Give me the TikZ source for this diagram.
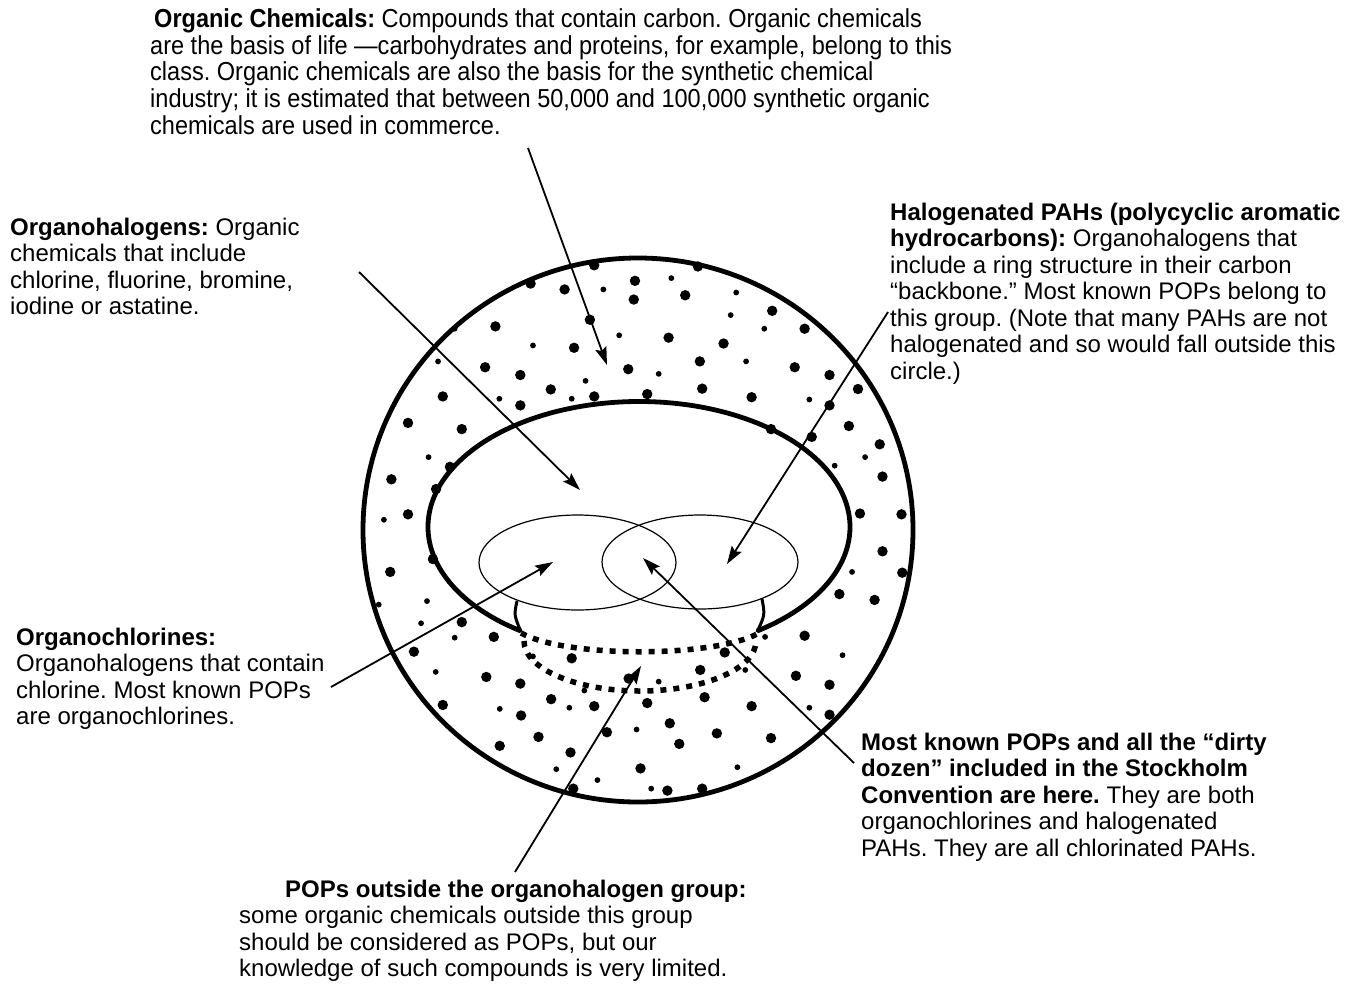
\documentclass[tikz,border=0pt]{standalone}
\usepackage{fontspec}
\setmainfont{Liberation Sans}
\newfontfamily\narrowfont{Liberation Sans}[FakeStretch=0.905]
\usetikzlibrary{arrows.meta}
\frenchspacing
\begin{document}
\begin{tikzpicture}[x=1pt,y=-1pt,
  txt/.style={anchor=north west, align=left, inner sep=0pt, font=\frenchspacing\fontsize{24}{26.5}\selectfont},
  ntxt/.style={anchor=north west, align=left, inner sep=0pt, font=\frenchspacing\narrowfont\fontsize{26}{26.7}\selectfont},
  ptr/.style={line width=1.8pt, -{Stealth[length=18pt,width=11.5pt,inset=3pt]}},
  thick ring/.style={line width=4.8pt},
  thin ring/.style={line width=1.2pt},
  hook/.style={line width=3pt},
  hidden/.style={line width=5.5pt, dash pattern=on 6pt off 7pt}]
\useasboundingbox (0,0) rectangle (1362,991);

% outer circle
\draw[thick ring] (638,530) ellipse [x radius=275, y radius=272];

% dots
\foreach \a/\b/\s in {643/65/L, 905/68/L, 482/112/L, 746/105/L, 838/98/S, 568/127/L, 666/127/S, 743/153/L, 873/142/L, 1002/135/S, 988/193/S, 1093/182/L, 632/205/L, 393/222/L, 290/228/S, 706/245/S, 831/251/L, 1073/228/S, 1175/228/L, 488/271/S, 592/277/L, 970/266/L, 248/312/S, 367/327/L, 910/312/L, 1027/312/S, 456/347/L, 729/332/L, 806/344/S, 1150/327/L, 1238/347/L, 621/362/S, 533/384/L, 916/382/L, 1310/383/L, 260/402/L, 403/408/S, 586/408/S, 643/402/L, 777/396/L, 1041/404/L, 1187/410/S, 456/425/L, 1238/425/L, 172/470/L, 308/486/L, 1287/478/L, 1090/486/L, 1193/506/L, 1365/525/L, 224/558/S, 1328/558/S, 278/583/L, 1251/580/S, 130/615/L, 243/640/L, 1372/608/L, 172/705/L, 111/719/S, 1315/703/L, 1420/705/L, 235/820/L, 127/853/L, 1372/800/L, 1295/853/S, 1422/855/L, 1263/910/L, 1352/925/L, 220/928/S, 98/937/S, 308/982/L, 205/985/S, 389/1020/L, 290/1022/S, 1075/1020/S, 1175/1017/L, 187/1058/L, 488/1070/S, 586/1075/L, 973/1060/L, 1025/1105/S, 1271/1067/S, 242/1110/S, 370/1123/L, 911/1105/L, 806/1135/S, 730/1127/L, 456/1140/L, 618/1158/S, 1153/1120/L, 1238/1143/L, 534/1180/L, 922/1175/L, 260/1195/L, 404/1205/S, 580/1202/S, 643/1198/L, 777/1190/L, 1041/1198/L, 1187/1202/S, 458/1222/L, 1238/1220/L, 675/1265/L, 834/1242/L, 750/1258/S, 502/1277/L, 953/1268/L, 1090/1280/L, 404/1300/L, 583/1317/L, 858/1295/L, 547/1360/S, 760/1358/L, 1005/1355/S, 651/1388/S, 590/1410/L, 787/1410/S, 828/1415/L, 916/1410/L}
{
  \if\s L\def\rr{5.2pt}\else\def\rr{2.9pt}\fi
  \fill ({340+\a/2.529},{240+\b/2.57}) circle[radius=\rr];
}

% inner (organohalogen) ellipse, open at the bottom
\draw[thick ring] ([shift={(124:211 and 125.5)}]639,527) arc[start angle=124, end angle=416, x radius=211, y radius=125.5];
% hooks from the small ellipses down to the thick ellipse ends
\draw[hook] (517,601) .. controls (514,615) .. (521,632);
\draw[hook] (762,599) .. controls (765,615) .. (757,632);
% hidden (dotted) parts
\draw[hidden] (521,633) .. controls (566,658) and (714,658) .. (759,633);
\draw[hidden] (524,641) arc[start angle=180, end angle=0, x radius=116, y radius=50];

% the two small ellipses
\draw[thin ring] (577.5,562.5) ellipse [x radius=98.5, y radius=47.5];
\draw[thin ring] (700,562) ellipse [x radius=98, y radius=47];

% texts
\node[ntxt] (orgchem) at (150,8.5) {\hspace*{4pt}\textbf{Organic Chemicals:} Compounds that contain carbon. Organic chemicals\\
are the basis of life —carbohydrates and proteins, for example, belong to this\\
class. Organic chemicals are also the basis for the synthetic chemical\\
industry; it is estimated that between 50,000 and 100,000 synthetic organic\\
chemicals are used in commerce.};

\node[txt] (orghal) at (10,217.5) {\textbf{Organohalogens:} Organic\\
chemicals that include\\
chlorine, fluorine, bromine,\\
iodine or astatine.};

\node[txt] (halpah) at (890,202.5) {\textbf{Halogenated PAHs (polycyclic aromatic}\\
\textbf{hydrocarbons):} Organohalogens that\\
include a ring structure in their carbon\\
“backbone.” Most known POPs belong to\\
this group. (Note that many PAHs are not\\
halogenated and so would fall outside this\\
circle.)};

\node[txt] (orgcl) at (16,627.5) {\textbf{Organochlorines:}\\
Organohalogens that contain\\
chlorine. Most known POPs\\
are organochlorines.};

\node[txt] (mostpop) at (861,732.5) {\textbf{Most known POPs and all the “dirty}\\
\textbf{dozen” included in the Stockholm}\\
\textbf{Convention are here.} They are both\\
organochlorines and halogenated\\
PAHs. They are all chlorinated PAHs.};

\node[txt] (outside) at (239,879.5) {\hspace*{46pt}\textbf{POPs outside the organohalogen group:}\\
some organic chemicals outside this group\\
should be considered as POPs, but our\\
knowledge of such compounds is very limited.};

% arrow ends
\coordinate (a1s) at (528,148);  \coordinate (a1t) at (607,365);
\coordinate (a2s) at (359,272);  \coordinate (a2t) at (580,490);
\coordinate (a3s) at (888,312);  \coordinate (a3t) at (727,564);
\coordinate (a4s) at (331,687);  \coordinate (a4t) at (553,562);
\coordinate (a5s) at (854,763);  \coordinate (a5t) at (643,558);
\coordinate (a6s) at (515,872);  \coordinate (a6t) at (641,666);

\draw[ptr] (a1s) -- (a1t);
\draw[ptr] (a2s) -- (a2t);
\draw[ptr] (a3s) -- (a3t);
\draw[ptr] (a4s) -- (a4t);
\draw[ptr] (a5s) -- (a5t);
\draw[ptr] (a6s) -- (a6t);
\end{tikzpicture}
\end{document}
